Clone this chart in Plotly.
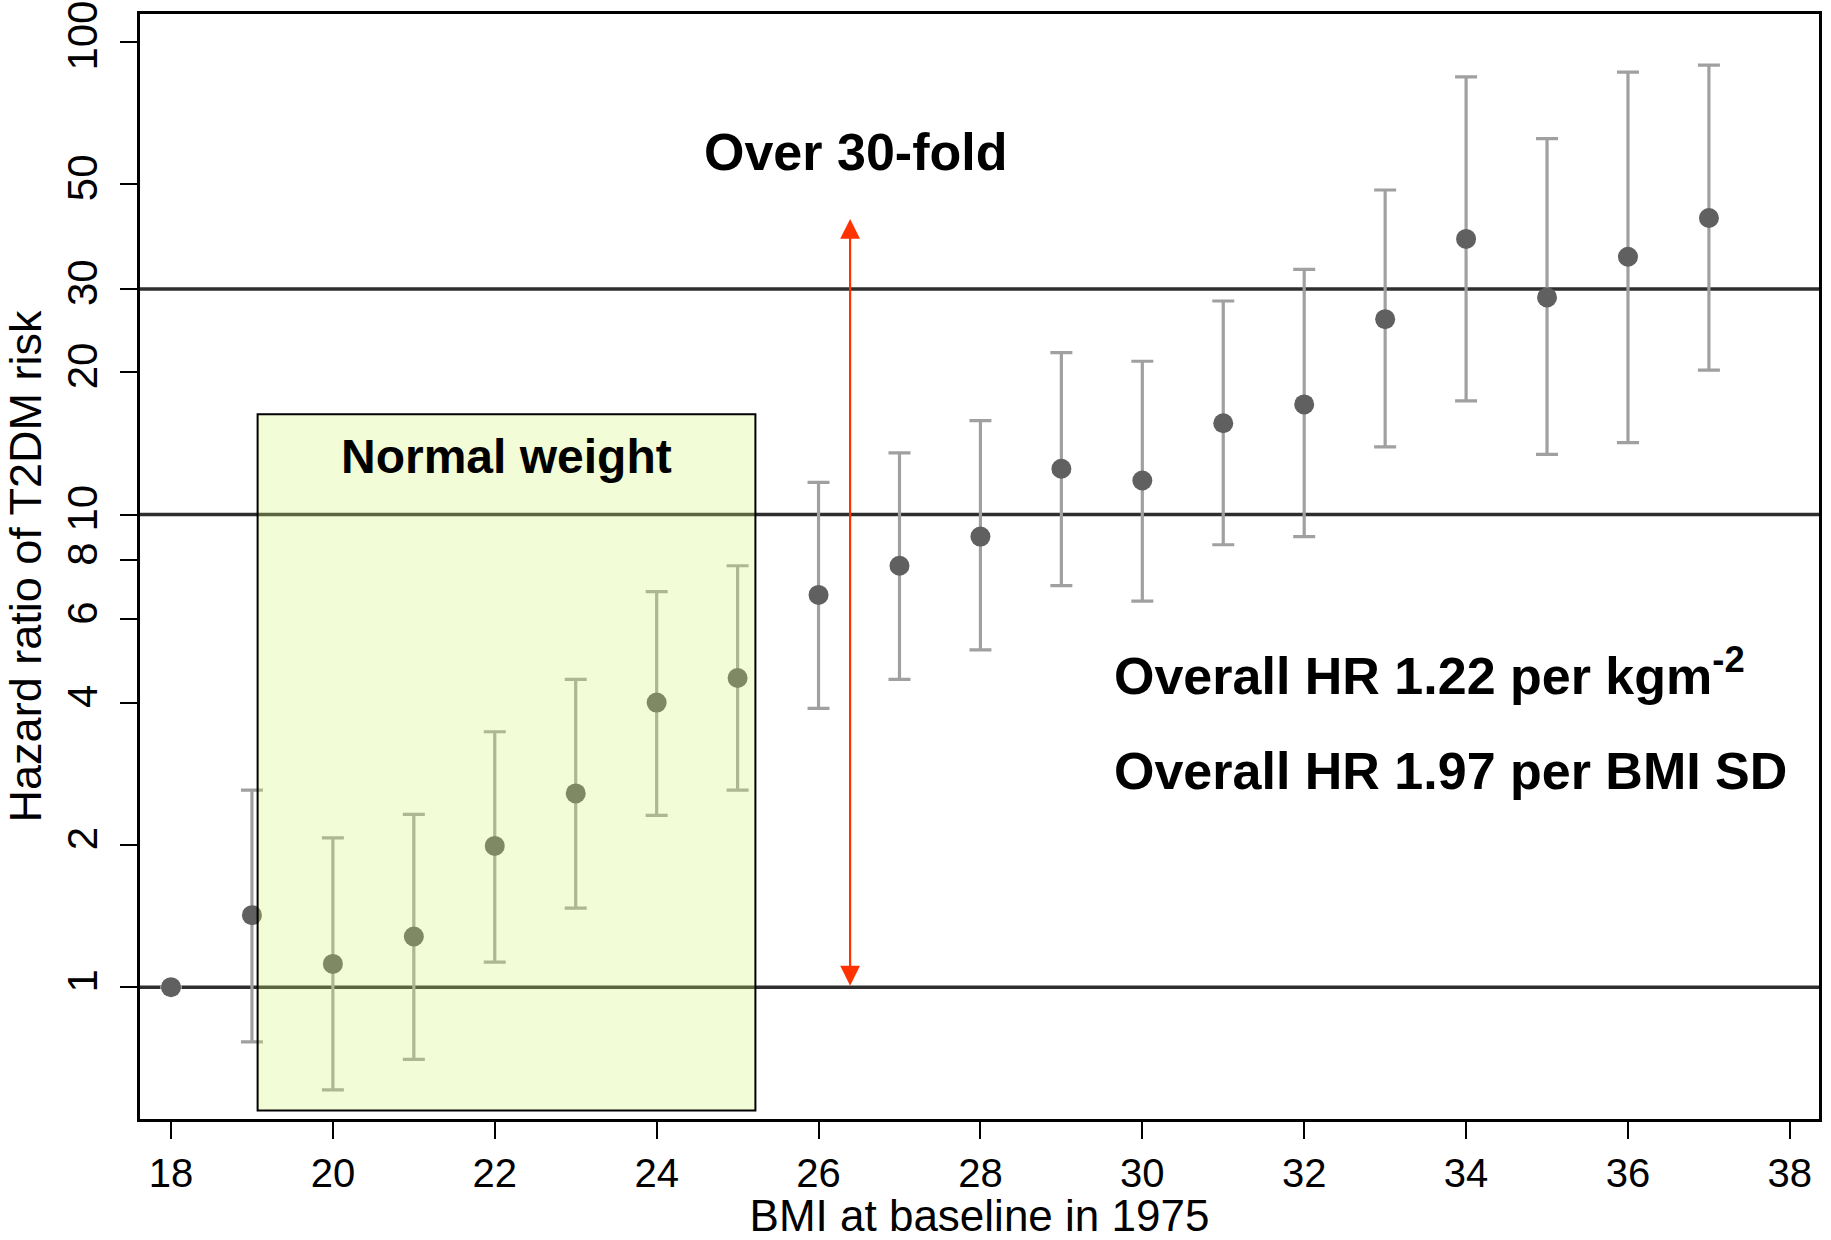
import numpy as np
import plotly.graph_objects as go

# ---- data ----
bmi = [18, 19, 20, 21, 22, 23, 24, 25, 26, 27, 28, 29, 30, 31, 32, 33, 34, 35, 36, 37]
hr = [1.0, 1.42, 1.12, 1.28, 1.99, 2.57, 4.0, 4.51, 6.76, 7.79, 8.98, 12.5, 11.8, 15.6, 17.1, 25.9, 38.3, 28.8, 35.1, 42.4]
ci_low = [1.0, 0.766, 0.606, 0.703, 1.13, 1.47, 2.31, 2.61, 3.89, 4.48, 5.17, 7.07, 6.56, 8.63, 8.98, 13.9, 17.4, 13.4, 14.2, 20.2]
ci_high = [1.0, 2.61, 2.07, 2.32, 3.47, 4.48, 6.87, 7.79, 11.7, 13.5, 15.8, 22.0, 21.1, 28.3, 33.0, 48.6, 84.3, 62.4, 86.3, 89.3]

ref_lines = [1, 10, 30]
x_ticks = [18, 20, 22, 24, 26, 28, 30, 32, 34, 36, 38]
y_ticks = [1, 2, 4, 6, 8, 10, 20, 30, 50, 100]
y_tick_labels = ["1", "2", "4", "6", "8", "10", "20", "30", "50", "100"]

normal_box_x = [19.07, 25.22]
normal_box_y = [0.548, 16.3]

arrow_x = 26.39
arrow_y = [1.0, 42.2]

x_range = [17.617, 38.36]
y_range_log = [-0.279, 2.059]

FONT = "Liberation Sans, Arial, sans-serif"

err_plus = [h - hv for h, hv in zip(ci_high, hr)]
err_minus = [hv - l for l, hv in zip(ci_low, hr)]

fig = go.Figure()

fig.add_trace(go.Scatter(
    x=bmi, y=hr, mode="markers",
    marker=dict(size=20, color="#606060"),
    error_y=dict(type="data", symmetric=False, array=err_plus, arrayminus=err_minus,
                 color="#a0a0a0", thickness=3.2, width=11),
    showlegend=False, hoverinfo="skip",
))

for v in ref_lines:
    fig.add_shape(type="line", xref="paper", yref="y", x0=0, x1=1, y0=v, y1=v,
                  line=dict(color="#2e2e2e", width=3.5), layer="below")

fig.add_shape(type="rect", xref="x", yref="y",
              x0=normal_box_x[0], x1=normal_box_x[1], y0=normal_box_y[0], y1=normal_box_y[1],
              fillcolor="rgba(208,244,106,0.28)", line=dict(color="black", width=2), layer="above")

# double-headed red arrow
fig.add_annotation(x=arrow_x, y=np.log10(arrow_y[1]), ax=arrow_x, ay=np.log10(arrow_y[0]),
                   xref="x", yref="y", axref="x", ayref="y", text="", showarrow=True,
                   arrowside="end+start", arrowhead=2, startarrowhead=2,
                   arrowsize=1.8, startarrowsize=1.8, arrowwidth=2.2, arrowcolor="#FF3300",
                   standoff=0, startstandoff=0)

fig.add_annotation(x=26.457, y=1.767, xref="x", yref="y", text="<b>Over 30-fold</b>",
                   showarrow=False, font=dict(family=FONT, size=52, color="black"),
                   xanchor="center", yanchor="middle")
fig.add_annotation(x=22.15, y=1.122, xref="x", yref="y", text="<b>Normal weight</b>",
                   showarrow=False, font=dict(family=FONT, size=48, color="black"),
                   xanchor="center", yanchor="middle")
fig.add_annotation(x=29.63, y=0.667, xref="x", yref="y",
                   text="<b>Overall HR 1.22 per kgm<sup>-2</sup></b>",
                   showarrow=False, font=dict(family=FONT, size=52, color="black"),
                   xanchor="left", yanchor="middle")
fig.add_annotation(x=29.63, y=0.457, xref="x", yref="y",
                   text="<b>Overall HR 1.97 per BMI SD</b>",
                   showarrow=False, font=dict(family=FONT, size=52, color="black"),
                   xanchor="left", yanchor="middle")

fig.update_layout(
    width=1831, height=1240,
    margin=dict(l=140, r=12, t=14, b=121, autoexpand=False),
    paper_bgcolor="white", plot_bgcolor="white",
    font=dict(family=FONT, color="black"),
    showlegend=False,
)
fig.update_xaxes(
    type="linear", range=x_range, tickvals=x_ticks, automargin=False,
    ticks="outside", ticklen=17, tickwidth=1.5, tickcolor="black",
    tickfont=dict(family=FONT, size=40, color="black"),
    showline=True, linecolor="black", linewidth=2.5, mirror=True,
    showgrid=False, zeroline=False,
    title=dict(text="BMI at baseline in 1975", font=dict(family=FONT, size=44, color="black"), standoff=6),
)
fig.update_yaxes(
    type="log", range=y_range_log, tickvals=y_ticks, ticktext=y_tick_labels, tickangle=-90,
    automargin=False, ticklabelstandoff=6,
    ticks="outside", ticklen=17, tickwidth=1.5, tickcolor="black",
    tickfont=dict(family=FONT, size=42, color="black"),
    showline=True, linecolor="black", linewidth=2.5, mirror=True,
    showgrid=False, zeroline=False,
    title=dict(text="Hazard ratio of T2DM risk", font=dict(family=FONT, size=45, color="black"), standoff=4),
)

fig.write_html("out.html")
